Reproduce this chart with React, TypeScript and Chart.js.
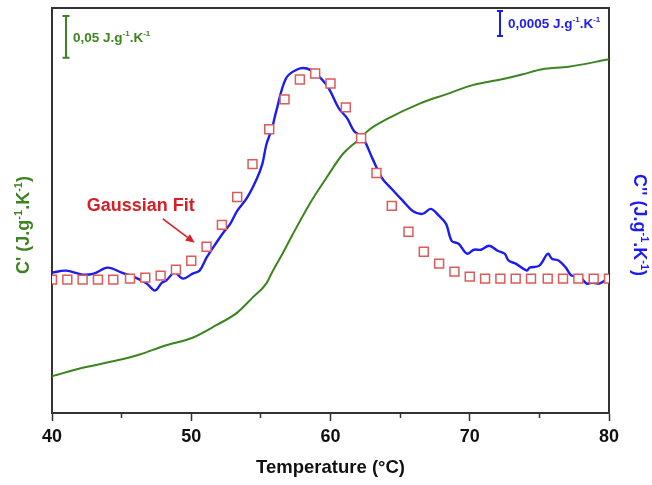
import React, { useEffect, useRef } from 'react';
import { Chart, registerables } from 'chart.js';

Chart.register(...registerables);

const FONT = '"Liberation Sans", Arial, Helvetica, sans-serif';
const GREEN = '#3c8420';
const BLUE = '#1c1cf0';
const RED_MARK = '#dc5a5a';
const RED_TEXT = '#d42027';
const FRAME = '#333333';

// C'' (loss) experimental curve, blue — temperature (°C) and J.g-1.K-1 (baseline-relative)
const blueT = [40.0, 41.0, 42.2, 43.0, 44.0, 45.0, 46.0, 46.8, 47.4, 47.9, 48.2, 48.8, 49.4, 50.1, 50.6, 51.1, 51.8, 52.4, 52.8, 53.3, 54.0, 54.7, 55.1, 55.4, 55.8, 56.1, 56.8, 57.6, 58.3, 59.0, 59.7, 60.1, 60.6, 61.2, 61.7, 62.3, 63.0, 63.7, 64.4, 65.2, 65.9, 66.6, 67.2, 67.8, 68.3, 68.7, 69.2, 69.8, 70.3, 70.8, 71.4, 72.0, 72.5, 72.8, 73.3, 74.1, 74.3, 75.0, 75.6, 75.9, 76.4, 76.9, 77.3, 77.8, 78.4, 78.8, 79.3, 79.9, 80.0];
const blueC2 = [0.00014, 0.00018, 0.00010, 0.00012, 0.00024, 0.00014, 0.00004, -0.00008, -0.00022, -0.00006, -0.00002, 0.00014, 0.00002, 0.00012, 0.00018, 0.00044, 0.00074, 0.00098, 0.00112, 0.00138, 0.00164, 0.00202, 0.00232, 0.00272, 0.00304, 0.00338, 0.00404, 0.00422, 0.00424, 0.00412, 0.00392, 0.00372, 0.00344, 0.00324, 0.00298, 0.00286, 0.00244, 0.00204, 0.00182, 0.00158, 0.00138, 0.00132, 0.00142, 0.00128, 0.00112, 0.00078, 0.00072, 0.00052, 0.00060, 0.00060, 0.00068, 0.00058, 0.00052, 0.00038, 0.00032, 0.00018, 0.00024, 0.00028, 0.00052, 0.00042, 0.00038, 0.00024, 0.00008, 0.00008, -0.00008, -0.00006, -0.00008, 0.00002, 0.00006];

// C' (storage) curve, green
const greenT = [40.0, 42.2, 44.7, 46.3, 48.2, 50.1, 51.8, 53.3, 54.4, 55.4, 55.8, 56.6, 57.3, 58.5, 59.7, 60.9, 61.9, 62.8, 64.0, 66.4, 68.3, 70.2, 72.3, 73.8, 75.2, 77.1, 80.0];
const greenC1 = [1.444, 1.454, 1.463, 1.470, 1.481, 1.490, 1.505, 1.520, 1.538, 1.555, 1.568, 1.592, 1.614, 1.650, 1.681, 1.710, 1.725, 1.739, 1.751, 1.770, 1.781, 1.792, 1.799, 1.805, 1.811, 1.814, 1.823];

// Gaussian fit of C'' (open squares)
const fitT = [40.0, 41.1, 42.2, 43.3, 44.4, 45.6, 46.7, 47.8, 48.9, 50.0, 51.1, 52.2, 53.3, 54.4, 55.6, 56.7, 57.8, 58.9, 60.0, 61.1, 62.2, 63.3, 64.4, 65.6, 66.7, 67.8, 68.9, 70.0, 71.1, 72.2, 73.3, 74.4, 75.6, 76.7, 77.8, 78.9, 80.0];
const fitC2 = [0, 0, 0, 0, 0, 0.00002, 0.00004, 0.00008, 0.00020, 0.00038, 0.00066, 0.00110, 0.00166, 0.00232, 0.00302, 0.00362, 0.00402, 0.00414, 0.00394, 0.00346, 0.00284, 0.00214, 0.00148, 0.00096, 0.00056, 0.00032, 0.00016, 0.00006, 0.00002, 0.00002, 0.00002, 0.00002, 0.00002, 0.00002, 0.00002, 0.00002, 0.00002];

// axes
const xMin = 40;
const xMax = 80;
const xTickLabels = [40, 50, 60, 70, 80];
const c1Min = 1.4;
const c1Max = 1.8845;
const c2Min = -0.00268;
const c2Max = 0.00546;
const c1ScaleBar = 0.05;
const c2ScaleBar = 0.0005;

type Part = [string, boolean];

function drawParts(ctx: CanvasRenderingContext2D, parts: Part[], x: number, yMid: number, size: number, color: string, align: 'left' | 'center') {
  const sup = Math.round(size * 0.62);
  let total = 0;
  const widths: number[] = [];
  for (const [t, s] of parts) {
    ctx.font = `bold ${s ? sup : size}px ${FONT}`;
    const w = ctx.measureText(t).width;
    widths.push(w);
    total += w;
  }
  let cx = align === 'center' ? x - total / 2 : x;
  const base = yMid + size * 0.36;
  ctx.fillStyle = color;
  ctx.textBaseline = 'alphabetic';
  ctx.textAlign = 'left';
  parts.forEach(([t, s], i) => {
    ctx.font = `bold ${s ? sup : size}px ${FONT}`;
    ctx.fillText(t, cx, s ? base - size * 0.42 : base);
    cx += widths[i];
  });
}

function scaleBar(ctx: CanvasRenderingContext2D, x: number, top: number, len: number, color: string, cap: number) {
  ctx.save();
  ctx.strokeStyle = color;
  ctx.lineWidth = 2;
  ctx.beginPath();
  ctx.moveTo(x, top);
  ctx.lineTo(x, top + len);
  ctx.moveTo(x - cap / 2, top);
  ctx.lineTo(x + cap / 2, top);
  ctx.moveTo(x - cap / 2, top + len);
  ctx.lineTo(x + cap / 2, top + len);
  ctx.stroke();
  ctx.restore();
}

const annotations = {
  id: 'annotations',
  afterDraw(chart: any) {
    const { ctx, scales } = chart;
    const sx = scales.x;
    const sy = scales.y;
    const sy1 = scales.y1;
    ctx.save();

    // axis titles with superscripts
    ctx.save();
    ctx.translate(23, 225);
    ctx.rotate(-Math.PI / 2);
    drawParts(ctx, [["C' (J.g", false], ['-1', true], ['.K', false], ['-1', true], [')', false]], 0, 0, 18, GREEN, 'center');
    ctx.restore();

    ctx.save();
    ctx.translate(640, 225);
    ctx.rotate(Math.PI / 2);
    drawParts(ctx, [["C'' (J.g", false], ['-1', true], ['.K', false], ['-1', true], [')', false]], 0, 0, 18, BLUE, 'center');
    ctx.restore();

    // scale bars
    const lenG = sy.getPixelForValue(c1Min) - sy.getPixelForValue(c1Min + c1ScaleBar);
    scaleBar(ctx, 66, 16, lenG, GREEN, 7);
    drawParts(ctx, [['0,05 J.g', false], ['-1', true], ['.K', false], ['-1', true]], 73, 37, 13.5, GREEN, 'left');

    const lenB = sy1.getPixelForValue(0) - sy1.getPixelForValue(c2ScaleBar);
    scaleBar(ctx, 500, 11, lenB, BLUE, 6);
    drawParts(ctx, [['0,0005 J.g', false], ['-1', true], ['.K', false], ['-1', true]], 508, 23, 13.5, BLUE, 'left');

    // Gaussian fit label + arrow
    const tx = sx.getPixelForValue(46.38);
    const ty = sy1.getPixelForValue(0.00148);
    ctx.font = `bold 18px ${FONT}`;
    ctx.fillStyle = RED_TEXT;
    ctx.textAlign = 'center';
    ctx.textBaseline = 'middle';
    ctx.fillText('Gaussian Fit', tx, ty);

    const ax0 = sx.getPixelForValue(47.96);
    const ay0 = sy1.getPixelForValue(0.00122);
    const ax1 = sx.getPixelForValue(50.25);
    const ay1 = sy1.getPixelForValue(0.00074);
    const ang = Math.atan2(ay1 - ay0, ax1 - ax0);
    const hl = 9;
    const hw = 4;
    ctx.strokeStyle = RED_TEXT;
    ctx.lineWidth = 1.6;
    ctx.beginPath();
    ctx.moveTo(ax0, ay0);
    ctx.lineTo(ax1 - hl * Math.cos(ang), ay1 - hl * Math.sin(ang));
    ctx.stroke();
    ctx.beginPath();
    ctx.moveTo(ax1, ay1);
    ctx.lineTo(ax1 - hl * Math.cos(ang) + hw * Math.sin(ang), ay1 - hl * Math.sin(ang) - hw * Math.cos(ang));
    ctx.lineTo(ax1 - hl * Math.cos(ang) - hw * Math.sin(ang), ay1 - hl * Math.sin(ang) + hw * Math.cos(ang));
    ctx.closePath();
    ctx.fillStyle = RED_TEXT;
    ctx.fill();

    ctx.restore();
  },
};

export default function App() {
  const ref = useRef<HTMLCanvasElement | null>(null);

  useEffect(() => {
    if (!ref.current) return;
    const chart = new Chart(ref.current, {
      type: 'line',
      data: {
        datasets: [
          {
            label: 'Gaussian Fit',
            data: fitT.map((t, i) => ({ x: t, y: fitC2[i] })),
            yAxisID: 'y1',
            showLine: false,
            pointStyle: 'rect',
            pointRadius: 6.3,
            pointBorderWidth: 1.5,
            pointBorderColor: RED_MARK,
            pointBackgroundColor: '#ffffff',
            borderColor: RED_MARK,
            backgroundColor: '#ffffff',
            order: 0,
          },
          {
            label: "C'",
            data: greenT.map((t, i) => ({ x: t, y: greenC1[i] })),
            yAxisID: 'y',
            borderColor: GREEN,
            borderWidth: 2,
            pointRadius: 0,
            tension: 0.4,
            cubicInterpolationMode: 'monotone',
            order: 1,
          },
          {
            label: "C''",
            data: blueT.map((t, i) => ({ x: t, y: blueC2[i] })),
            yAxisID: 'y1',
            borderColor: BLUE,
            borderWidth: 2.4,
            pointRadius: 0,
            tension: 0.35,
            order: 2,
          },
        ],
      } as any,
      options: {
        animation: false,
        responsive: false,
        devicePixelRatio: 1,
        layout: { padding: 0 },
        plugins: {
          legend: { display: false },
          tooltip: { enabled: false },
        },
        scales: {
          x: {
            type: 'linear',
            position: 'bottom',
            min: xMin,
            max: xMax,
            afterFit: (s: any) => {
              s.height = 72;
            },
            ticks: {
              stepSize: 5,
              autoSkip: false,
              maxRotation: 0,
              padding: 5,
              color: '#111111',
              font: { family: FONT, size: 18, weight: 'bold' },
              callback: (v: any) => (xTickLabels.includes(Number(v)) ? String(v) : ''),
            },
            grid: {
              display: true,
              drawOnChartArea: false,
              drawTicks: true,
              tickLength: 8,
              tickColor: FRAME,
              tickWidth: 1.5,
              tickBorderDash: (c: any) => (c.tick && xTickLabels.includes(c.tick.value) ? [] : [4, 100]),
            },
            border: { display: true, color: FRAME, width: 2 },
            title: {
              display: true,
              text: 'Temperature (°C)',
              color: '#111111',
              font: { family: FONT, size: 18.5, weight: 'bold' },
              padding: { top: 0, bottom: 6 },
            },
          },
          xTop: {
            type: 'linear',
            position: 'top',
            min: xMin,
            max: xMax,
            afterFit: (s: any) => {
              s.height = 6;
            },
            ticks: { display: false },
            grid: { display: false, drawTicks: false },
            border: { display: true, color: FRAME, width: 2 },
          },
          y: {
            type: 'linear',
            position: 'left',
            min: c1Min,
            max: c1Max,
            afterFit: (s: any) => {
              s.width = 52;
            },
            ticks: { display: false },
            grid: { display: false, drawTicks: false },
            border: { display: true, color: FRAME, width: 2 },
          },
          y1: {
            type: 'linear',
            position: 'right',
            min: c2Min,
            max: c2Max,
            afterFit: (s: any) => {
              s.width = 43;
            },
            ticks: { display: false },
            grid: { display: false, drawTicks: false },
            border: { display: true, color: FRAME, width: 2 },
          },
        },
      } as any,
      plugins: [annotations],
    });
    return () => chart.destroy();
  }, []);

  return (
    <div style={{ position: 'fixed', left: 0, top: 0, width: 652, height: 485, background: '#ffffff' }}>
      <canvas ref={ref} width={652} height={485} />
    </div>
  );
}
